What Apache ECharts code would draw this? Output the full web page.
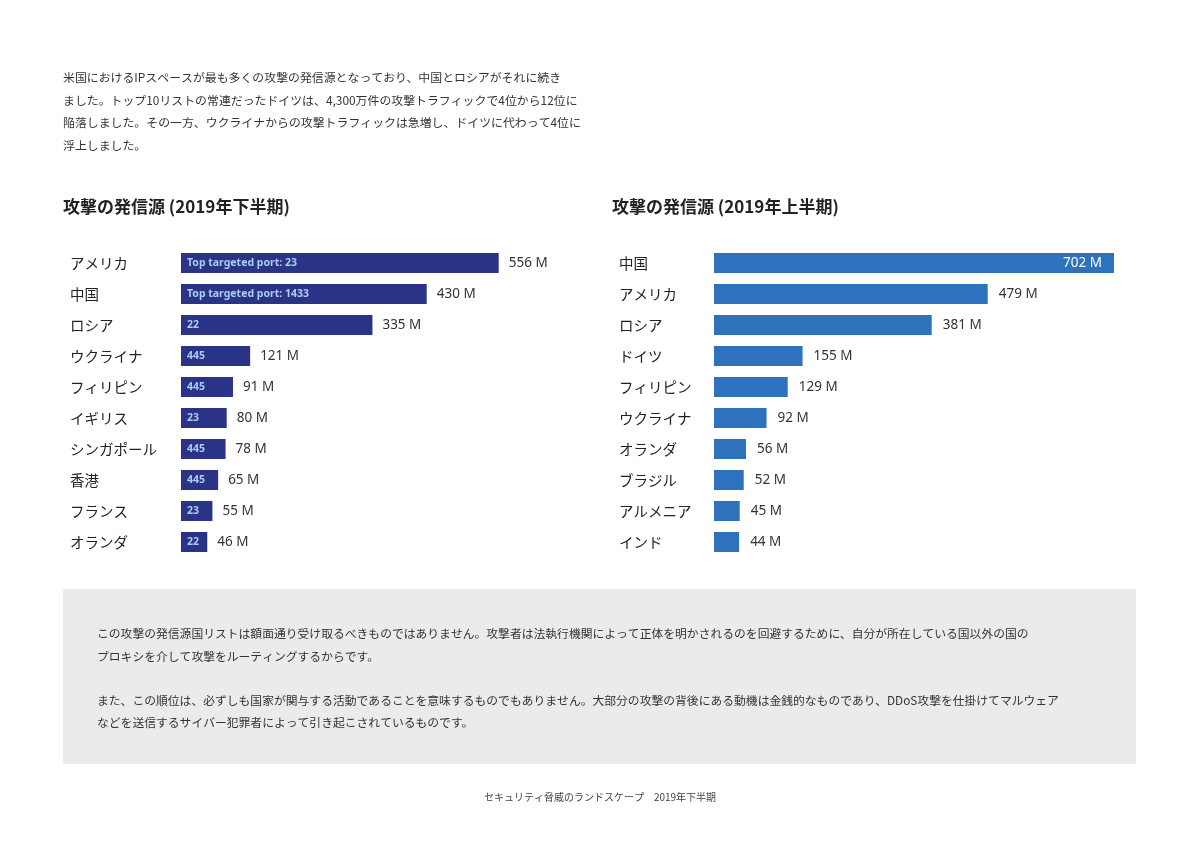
<!DOCTYPE html>
<html><head><meta charset="utf-8">
<script src="https://cdn.jsdelivr.net/npm/echarts@6/dist/echarts.min.js"></script>
<style>html,body{margin:0;padding:0;background:#fff}#c{width:1200px;height:848px}</style>
</head><body><div id="c"></div>
<script>
const leftCountries = ['アメリカ','中国','ロシア','ウクライナ','フィリピン','イギリス','シンガポール','香港','フランス','オランダ'];
const leftValues = [556,430,335,121,91,80,78,65,55,46];
const leftPorts = ['23','1433','22','445','445','23','445','445','23','22'];
const rightCountries = ['中国','アメリカ','ロシア','ドイツ','フィリピン','ウクライナ','オランダ','ブラジル','アルメニア','インド'];
const rightValues = [702,479,381,155,129,92,56,52,45,44];
const leftTitle = '攻撃の発信源 (2019年下半期)';
const rightTitle = '攻撃の発信源 (2019年上半期)';
const introLines = [
 '米国におけるIPスペースが最も多くの攻撃の発信源となっており、中国とロシアがそれに続き',
 'ました。トップ10リストの常連だったドイツは、4,300万件の攻撃トラフィックで4位から12位に',
 '陥落しました。その一方、ウクライナからの攻撃トラフィックは急増し、ドイツに代わって4位に',
 '浮上しました。'
];
const noteLines = [
 'この攻撃の発信源国リストは額面通り受け取るべきものではありません。攻撃者は法執行機関によって正体を明かされるのを回避するために、自分が所在している国以外の国の',
 'プロキシを介して攻撃をルーティングするからです。',
 'また、この順位は、必ずしも国家が関与する活動であることを意味するものでもありません。大部分の攻撃の背後にある動機は金銭的なものであり、DDoS攻撃を仕掛けてマルウェア',
 'などを送信するサイバー犯罪者によって引き起こされているものです。'
];
const footer = 'セキュリティ脅威のランドスケープ　2019年下半期';

const JP = '"Noto Sans CJK JP", "Noto Sans", sans-serif';
const LEFT_C = '#2b3386', RIGHT_C = '#2e72bd';

const graphics = [];
graphics.push({type:'rect', shape:{x:63,y:589,width:1073,height:175}, style:{fill:'#ebebeb'}, z:-10});
introLines.forEach((t,i)=>graphics.push({type:'text', left:63, top:72+i*22.4, style:{text:t, font:'11.9px '+JP, fill:'#333'}}));
[636,659,703,725].forEach((y,i)=>graphics.push({type:'text', left:97, top:y-8, style:{text:noteLines[i], font:'11.8px '+JP, fill:'#333'}}));
graphics.push({type:'text', left:63, top:198, style:{text:leftTitle, font:'bold 17px '+JP, fill:'#222'}});
graphics.push({type:'text', left:612, top:198, style:{text:rightTitle, font:'bold 17px '+JP, fill:'#222'}});
graphics.push({type:'text', left:'center', top:792, style:{text:footer, font:'10px '+JP, fill:'#444'}});

const yBase = {type:'category', inverse:true, axisLine:{show:false}, axisTick:{show:false}, splitLine:{show:false},
  axisLabel:{align:'left', fontFamily:JP, fontSize:14.5, color:'#222'}};
const chart = echarts.init(document.getElementById('c'));
chart.setOption({
  animation:false,
  graphic: graphics,
  grid:[{left:181, top:247.5, width:400, height:310},{left:714, top:247.5, width:400, height:310}],
  xAxis:[{gridIndex:0, type:'value', min:0, max:700, show:false},{gridIndex:1, type:'value', min:0, max:700, show:false}],
  yAxis:[Object.assign({}, yBase, {gridIndex:0, data:leftCountries, axisLabel:Object.assign({}, yBase.axisLabel, {margin:111})}),
         Object.assign({}, yBase, {gridIndex:1, data:rightCountries, axisLabel:Object.assign({}, yBase.axisLabel, {margin:95})})],
  series:[
    {type:'bar', xAxisIndex:0, yAxisIndex:0, data:leftValues, barWidth:20, itemStyle:{color:LEFT_C},
     label:{show:true, position:'insideLeft', distance:6, fontFamily:'"Noto Sans", sans-serif', fontWeight:'bold', fontSize:10.5, color:'#a9cdf3',
       formatter:p => p.dataIndex < 2 ? 'Top targeted port: '+leftPorts[p.dataIndex] : leftPorts[p.dataIndex]}},
    {type:'bar', xAxisIndex:0, yAxisIndex:0, data:leftValues, barWidth:20, barGap:'-100%', silent:true, itemStyle:{color:'rgba(0,0,0,0)'},
     label:{show:true, position:'right', distance:10, fontFamily:'"Noto Sans", sans-serif', fontSize:13.5, color:'#333', formatter:p=>p.value+' M'}},
    {type:'bar', xAxisIndex:1, yAxisIndex:1, barWidth:20, itemStyle:{color:RIGHT_C},
     data: rightValues.map((v,i)=> i===0 ? {value:v, label:{position:'insideRight', distance:12, color:'#fff'}} : v),
     label:{show:true, position:'right', distance:11, fontFamily:'"Noto Sans", sans-serif', fontSize:13.5, color:'#333', formatter:p=>p.value+' M'}}
  ]
});
</script></body></html>
